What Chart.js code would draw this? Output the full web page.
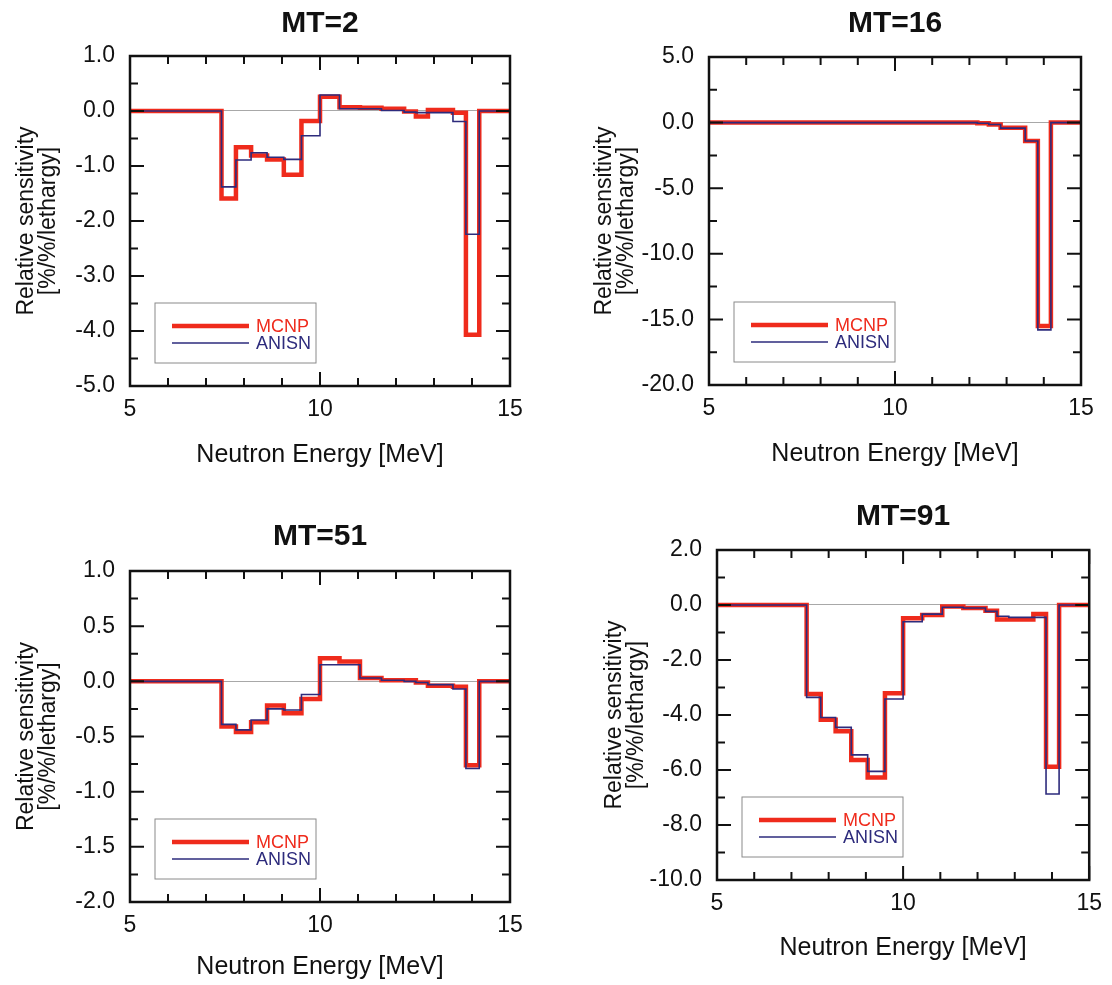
<!DOCTYPE html>
<html>
<head>
<meta charset="utf-8">
<script src="https://cdn.jsdelivr.net/npm/chart.js@4/dist/chart.umd.min.js"></script>
<style>
  html, body { margin: 0; padding: 0; background: #fff; }
  body { width: 1112px; height: 985px; position: relative; overflow: hidden; }
  .panel { position: absolute; }
</style>
</head>
<body>
<div class="panel" style="left:0;top:0;width:556px;height:490px"><canvas id="c1"></canvas></div>
<div class="panel" style="left:556px;top:0;width:556px;height:490px"><canvas id="c2"></canvas></div>
<div class="panel" style="left:0;top:490px;width:556px;height:495px"><canvas id="c3"></canvas></div>
<div class="panel" style="left:556px;top:490px;width:556px;height:495px"><canvas id="c4"></canvas></div>
<script>
// group lower edges (MeV), last entry is the upper edge of the last group
const edges = [7.408, 7.788, 8.187, 8.607, 9.048, 9.512, 10.0, 10.513, 11.052, 11.618, 12.214, 12.523, 12.840, 13.499, 13.840, 14.191];

const mt2Mcnp  = [-1.59, -0.66, -0.81, -0.88, -1.16, -0.18, 0.26, 0.07, 0.06, 0.04, -0.01, -0.10, 0.02, -0.03, -4.07];
const mt2Anisn = [-1.38, -0.89, -0.76, -0.84, -0.88, -0.45, 0.29, 0.04, 0.04, 0.01, -0.02, -0.03, -0.03, -0.19, -2.24];

const mt16Mcnp  = [0, 0, 0, 0, 0, 0, 0, 0, 0, 0, -0.05, -0.15, -0.40, -1.40, -15.5];
const mt16Anisn = [0, 0, 0, 0, 0, 0, 0, 0, 0, 0, -0.05, -0.15, -0.42, -1.40, -15.8];

const mt51Mcnp  = [-0.41, -0.46, -0.37, -0.22, -0.29, -0.16, 0.21, 0.18, 0.03, 0.01, 0.01, -0.01, -0.04, -0.05, -0.76];
const mt51Anisn = [-0.39, -0.44, -0.35, -0.25, -0.26, -0.12, 0.15, 0.15, 0.03, 0.01, 0.00, -0.01, -0.03, -0.07, -0.79];

const mt91Mcnp  = [-3.24, -4.17, -4.59, -5.64, -6.27, -3.21, -0.48, -0.36, -0.05, -0.11, -0.21, -0.53, -0.53, -0.33, -5.88];
const mt91Anisn = [-3.36, -4.09, -4.45, -5.45, -6.05, -3.42, -0.61, -0.33, -0.08, -0.11, -0.23, -0.41, -0.45, -0.45, -6.87];

const xMin = 5, xMax = 15;
const RED = '#ef2b1c', NAVY = '#2d2b7c';
const FONT = "'Liberation Sans', Arial, sans-serif";

function steps(vals) {
    const pts = [{x: xMin, y: 0}];
    vals.forEach((v, i) => pts.push({x: edges[i], y: v}));
    pts.push({x: edges[edges.length - 1], y: 0});
    pts.push({x: xMax, y: 0});
    return pts;
}

function isMajor(v, step) {
    return Math.abs(v / step - Math.round(v / step)) < 1e-6;
}

// inward ticks on all four sides, box frame, and the boxed legend inside the plot
const framePlugin = {
    id: 'frame',
    afterDatasetsDraw(chart, args, opts) {
        const ctx = chart.ctx, a = chart.chartArea;
        const xs = chart.scales.x, ys = chart.scales.y;
        ctx.save();
        ctx.strokeStyle = '#111';
        ctx.lineWidth = 2;
        ys.ticks.forEach(t => {
            const p = ys.getPixelForValue(t.value);
            const len = isMajor(t.value, opts.yMajor) ? 14 : 8;
            ctx.beginPath();
            ctx.moveTo(a.left, p); ctx.lineTo(a.left + len, p);
            ctx.moveTo(a.right, p); ctx.lineTo(a.right - len, p);
            ctx.stroke();
        });
        xs.ticks.forEach(t => {
            const p = xs.getPixelForValue(t.value);
            const len = isMajor(t.value, 5) ? 14 : 8;
            ctx.beginPath();
            ctx.moveTo(p, a.bottom); ctx.lineTo(p, a.bottom - len);
            ctx.moveTo(p, a.top); ctx.lineTo(p, a.top + len);
            ctx.stroke();
        });
        ctx.lineWidth = 2.5;
        ctx.strokeRect(a.left, a.top, a.right - a.left, a.bottom - a.top);

        // legend box
        const bx = a.left + 25, by = a.bottom - 23 - 60;
        ctx.lineWidth = 1;
        ctx.strokeStyle = '#8a8a8a';
        ctx.strokeRect(bx, by, 161, 60);
        const order = [1, 0];
        order.forEach((di, k) => {
            const ds = chart.data.datasets[di];
            const ly = by + 23 + k * 17;
            ctx.beginPath();
            ctx.strokeStyle = ds.borderColor;
            ctx.lineWidth = ds.borderWidth;
            ctx.moveTo(bx + 17, ly); ctx.lineTo(bx + 94, ly);
            ctx.stroke();
            ctx.fillStyle = ds.borderColor;
            ctx.font = '18px ' + FONT;
            ctx.textBaseline = 'middle';
            ctx.textAlign = 'left';
            ctx.fillText(ds.label, bx + 101, ly + 1);
        });
        ctx.restore();
    }
};

function makePanel(id, title, mcnp, anisn, yMin, yMax, yStep, yMajor, box) {
    const H = box.canvasH, W = 556;
    const titlePadTop = box.titleY - 18;
    const titlePadBottom = box.areaTop - titlePadTop - 36;
    const padRight = W - box.areaRight;

    const data = {
        datasets: [
            {
                label: 'ANISN',
                data: steps(anisn),
                borderColor: NAVY,
                borderWidth: 1.6,
                order: 0
            },
            {
                label: 'MCNP',
                data: steps(mcnp),
                borderColor: RED,
                borderWidth: 4.5,
                order: 1
            }
        ]
    };

    const config = {
        type: 'line',
        data: data,
        options: {
            responsive: true,
            maintainAspectRatio: false,
            animation: false,
            layout: { padding: { left: 0, right: padRight, top: 0, bottom: 0 } },
            elements: {
                point: { radius: 0 },
                line: { stepped: 'before', tension: 0, borderJoinStyle: 'miter', borderCapStyle: 'butt' }
            },
            scales: {
                x: {
                    type: 'linear',
                    min: xMin,
                    max: xMax,
                    border: { display: false },
                    grid: { display: false, drawTicks: false },
                    ticks: {
                        stepSize: 1,
                        autoSkip: false,
                        maxRotation: 0,
                        padding: 10,
                        color: '#111',
                        font: { family: FONT, size: 23 },
                        callback: v => isMajor(v, 5) ? String(v) : ''
                    },
                    title: {
                        display: true,
                        text: 'Neutron Energy [MeV]',
                        color: '#111',
                        font: { family: FONT, size: 25, lineHeight: 1.2 },
                        padding: { top: 0, bottom: box.xTitleBottom - 15 }
                    },
                    afterFit: s => { s.height = H - box.areaBottom; }
                },
                y: {
                    min: yMin,
                    max: yMax,
                    border: { display: false },
                    grid: {
                        drawTicks: false,
                        lineWidth: 1,
                        color: c => c.tick && Math.abs(c.tick.value) < 1e-9 ? '#a8a8a8' : 'rgba(0,0,0,0)'
                    },
                    ticks: {
                        stepSize: yStep,
                        autoSkip: false,
                        padding: 15,
                        color: '#111',
                        font: { family: FONT, size: 23 },
                        callback: v => isMajor(v, yMajor) ? (Math.abs(v) < 1e-9 ? 0 : v).toFixed(1) : ''
                    },
                    title: {
                        display: true,
                        text: ['Relative sensitivity', '[%/%/lethargy]'],
                        color: '#111',
                        font: { family: FONT, size: 23, lineHeight: 0.96 },
                        padding: { top: box.yTitleX - 11, bottom: 0 }
                    },
                    afterFit: s => { s.width = box.areaLeft; }
                }
            },
            plugins: {
                legend: { display: false },
                tooltip: { enabled: false },
                title: {
                    display: true,
                    text: title,
                    fullSize: false,
                    color: '#111',
                    font: { family: FONT, size: 30, weight: 'bold', lineHeight: 1.2 },
                    padding: { top: titlePadTop, bottom: titlePadBottom }
                },
                frame: { yMajor: yMajor }
            }
        },
        plugins: [framePlugin]
    };

    return new Chart(document.getElementById(id), config);
}

// positions are in each panel's own canvas coordinates
makePanel('c1', 'MT=2', mt2Mcnp, mt2Anisn, -5, 1, 0.5, 1,
    { canvasH: 490, areaLeft: 130, areaRight: 510, areaTop: 56, areaBottom: 386, titleY: 24, xTitleBottom: 35, yTitleX: 27 });
makePanel('c2', 'MT=16', mt16Mcnp, mt16Anisn, -20, 5, 2.5, 5,
    { canvasH: 490, areaLeft: 153, areaRight: 525, areaTop: 57, areaBottom: 385, titleY: 24, xTitleBottom: 36, yTitleX: 49 });
makePanel('c3', 'MT=51', mt51Mcnp, mt51Anisn, -2, 1, 0.25, 0.5,
    { canvasH: 495, areaLeft: 130, areaRight: 510, areaTop: 81, areaBottom: 412, titleY: 47, xTitleBottom: 18, yTitleX: 27 });
makePanel('c4', 'MT=91', mt91Mcnp, mt91Anisn, -10, 2, 1, 2,
    { canvasH: 495, areaLeft: 161, areaRight: 537, areaTop: 60, areaBottom: 390, titleY: 27, xTitleBottom: 37, yTitleX: 59 });
</script>
</body>
</html>
